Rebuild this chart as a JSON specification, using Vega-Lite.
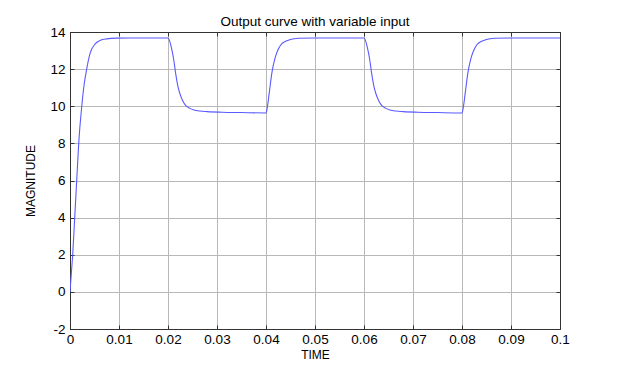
{
  "$schema": "https://vega.github.io/schema/vega-lite/v6.json",
  "width": 490,
  "height": 297,
  "autosize": {"type": "none"},
  "padding": {"left": 70, "top": 32, "right": 66, "bottom": 63},
  "background": "white",
  "title": {
    "text": "Output curve with variable input",
    "font": "Liberation Sans",
    "fontSize": 13.5,
    "fontWeight": "normal",
    "color": "#000000",
    "baseline": "bottom",
    "offset": 0,
    "dy": 17,
    "anchor": "middle"
  },
  "config": {
    "view": {"stroke": "#333333", "strokeWidth": 1},
    "axis": {
      "labelFont": "Liberation Sans",
      "titleFont": "Liberation Sans",
      "labelFontSize": 13.5,
      "labelColor": "#000000",
      "titleFontSize": 12,
      "titleFontWeight": "normal",
      "titleColor": "#000000",
      "domainColor": "#333333",
      "tickColor": "#333333",
      "tickSize": -4,
      "gridColor": "#b8b8b8",
      "gridWidth": 1,
      "gridOpacity": 1
    }
  },
  "data": {
    "values": [
      {"t": 0, "v": 0}, {"t": 0.0003, "v": 1.1}, {"t": 0.00055, "v": 2}, {"t": 0.00096, "v": 4},
      {"t": 0.00137, "v": 6}, {"t": 0.00178, "v": 8}, {"t": 0.0024, "v": 10}, {"t": 0.0029, "v": 11.2},
      {"t": 0.0034, "v": 12}, {"t": 0.0041, "v": 12.85}, {"t": 0.0051, "v": 13.35}, {"t": 0.0062, "v": 13.55},
      {"t": 0.0075, "v": 13.63}, {"t": 0.0095, "v": 13.67}, {"t": 0.012, "v": 13.68}, {"t": 0.02, "v": 13.68},
      {"t": 0.0203, "v": 13.55}, {"t": 0.0206, "v": 13.25}, {"t": 0.0209, "v": 12.9}, {"t": 0.0212, "v": 12.45},
      {"t": 0.0216, "v": 11.7}, {"t": 0.022, "v": 11.1}, {"t": 0.0224, "v": 10.7}, {"t": 0.023, "v": 10.3},
      {"t": 0.0236, "v": 10.05}, {"t": 0.0244, "v": 9.9}, {"t": 0.0253, "v": 9.8}, {"t": 0.0265, "v": 9.74},
      {"t": 0.028, "v": 9.71}, {"t": 0.031, "v": 9.68}, {"t": 0.035, "v": 9.66}, {"t": 0.04, "v": 9.64},
      {"t": 0.0403, "v": 10.0}, {"t": 0.0407, "v": 10.8}, {"t": 0.0412, "v": 11.8}, {"t": 0.0418, "v": 12.55},
      {"t": 0.0423, "v": 12.95}, {"t": 0.043, "v": 13.3}, {"t": 0.044, "v": 13.5}, {"t": 0.045, "v": 13.6},
      {"t": 0.0466, "v": 13.66}, {"t": 0.05, "v": 13.68}, {"t": 0.06, "v": 13.68},
      {"t": 0.0603, "v": 13.55}, {"t": 0.0606, "v": 13.25}, {"t": 0.0609, "v": 12.9}, {"t": 0.0612, "v": 12.45},
      {"t": 0.0616, "v": 11.7}, {"t": 0.062, "v": 11.1}, {"t": 0.0624, "v": 10.7}, {"t": 0.063, "v": 10.3},
      {"t": 0.0636, "v": 10.05}, {"t": 0.0644, "v": 9.9}, {"t": 0.0653, "v": 9.8}, {"t": 0.0665, "v": 9.74},
      {"t": 0.068, "v": 9.71}, {"t": 0.071, "v": 9.68}, {"t": 0.075, "v": 9.66}, {"t": 0.08, "v": 9.64},
      {"t": 0.0803, "v": 10.0}, {"t": 0.0807, "v": 10.8}, {"t": 0.0812, "v": 11.8}, {"t": 0.0818, "v": 12.55},
      {"t": 0.0823, "v": 12.95}, {"t": 0.083, "v": 13.3}, {"t": 0.084, "v": 13.5}, {"t": 0.085, "v": 13.6},
      {"t": 0.0866, "v": 13.66}, {"t": 0.09, "v": 13.68}, {"t": 0.1, "v": 13.68}
    ]
  },
  "layer": [
    {
      "mark": {"type": "line", "color": "#5a5aff", "strokeWidth": 1.1, "interpolate": "monotone", "clip": true},
      "encoding": {
        "x": {
          "field": "t", "type": "quantitative",
          "scale": {"domain": [0, 0.1], "nice": false, "zero": false},
          "axis": {
            "title": "TIME", "orient": "bottom",
            "values": [0, 0.01, 0.02, 0.03, 0.04, 0.05, 0.06, 0.07, 0.08, 0.09, 0.1],
            "format": "~g", "labelPadding": 7, "titlePadding": 4,
            "labelFlush": false, "labelOverlap": false, "grid": true
          }
        },
        "y": {
          "field": "v", "type": "quantitative",
          "scale": {"domain": [-2, 14], "nice": false, "zero": false},
          "axis": {
            "title": "MAGNITUDE", "orient": "left",
            "values": [-2, 0, 2, 4, 6, 8, 10, 12, 14],
            "labelExpr": "datum.value < 0 ? '-' + abs(datum.value) : '' + datum.value",
            "labelPadding": 9, "titlePadding": 12,
            "labelFlush": false, "labelOverlap": false, "grid": true
          }
        }
      }
    },
    {
      "mark": {"type": "line", "strokeOpacity": 0},
      "encoding": {
        "x": {
          "field": "t", "type": "quantitative",
          "scale": {"domain": [0, 0.1], "nice": false, "zero": false},
          "axis": {
            "title": null, "orient": "top", "labels": false, "grid": false,
            "values": [0, 0.01, 0.02, 0.03, 0.04, 0.05, 0.06, 0.07, 0.08, 0.09, 0.1]
          }
        },
        "y": {
          "field": "v", "type": "quantitative",
          "scale": {"domain": [-2, 14], "nice": false, "zero": false},
          "axis": {
            "title": null, "orient": "right", "labels": false, "grid": false,
            "values": [-2, 0, 2, 4, 6, 8, 10, 12, 14]
          }
        }
      }
    }
  ],
  "resolve": {"axis": {"x": "independent", "y": "independent"}}
}
